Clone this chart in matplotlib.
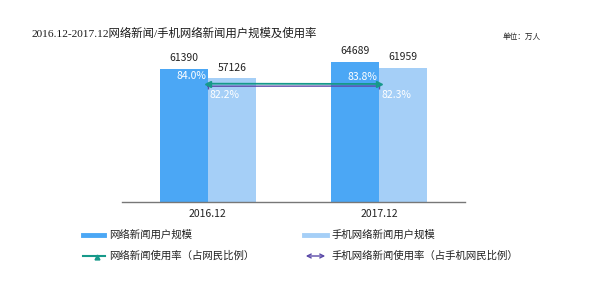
import matplotlib
matplotlib.use("Agg")
import matplotlib.pyplot as plt
from matplotlib.lines import Line2D
from matplotlib.patches import FancyArrowPatch

plt.rcParams['font.family'] = ['Noto Sans CJK SC', 'DejaVu Sans']

categories = ['2016.12', '2017.12']
news_users = [61390, 64689]
mobile_news_users = [57126, 61959]
news_rate = [84.0, 83.8]
mobile_news_rate = [82.2, 82.3]

c_dark = '#4ba7f5'
c_light = '#a5cff7'
c_green = '#16998a'
c_purple = '#5b4aa8'

fig = plt.figure(figsize=(6, 2.91), dpi=100)
ax = fig.add_axes([122/600, 89/291, 343/600, 162/291])
x = list(range(len(categories)))
w = 0.28
ax.bar([i - w/2 for i in x], news_users, width=w, color=c_dark)
ax.bar([i + w/2 for i in x], mobile_news_users, width=w, color=c_light)
ax.set_xlim(-0.5, 1.5)
ax.set_ylim(0, 74800)
for s in ['top', 'right', 'left']:
    ax.spines[s].set_visible(False)
ax.spines['bottom'].set_color('#777777')
ax.spines['bottom'].set_linewidth(1.0)
ax.set_yticks([])
ax.set_xticks(x)
ax.set_xticklabels(categories, fontsize=7.5, color='#222222')
ax.tick_params(axis='x', length=0, pad=5)

for i, v in enumerate(news_users):
    ax.text(i - w/2, v + 2600, str(v), ha='center', va='bottom', fontsize=7.5, color='#222222')
for i, v in enumerate(mobile_news_users):
    ax.text(i + w/2, v + 2600, str(v), ha='center', va='bottom', fontsize=7.5, color='#222222')

ax2 = ax.twinx()
ax2.set_ylim(0, 115)
ax2.set_axis_off()
ax2.plot(x, news_rate, color=c_green, lw=1.3, zorder=3)
ax2.plot(x[:1], news_rate[:1], marker='<', color=c_green, ms=4, zorder=4)
ax2.plot(x[-1:], news_rate[-1:], marker='>', color=c_green, ms=4, zorder=4)
ax2.plot(x, mobile_news_rate, color=c_purple, lw=1.0, zorder=2)
ax2.plot(x[:1], mobile_news_rate[:1], marker='|', color=c_purple, ms=4, zorder=2)
ax2.plot(x[-1:], mobile_news_rate[-1:], marker='|', color=c_purple, ms=4, zorder=2)

for i, v in enumerate(news_rate):
    ax2.text(i - 0.01, v + 5.2, f'{v:.1f}%', ha='right', va='center', fontsize=7.5, color='white', zorder=5)
for i, v in enumerate(mobile_news_rate):
    ax2.text(i + 0.012, v - 6.5, f'{v:.1f}%', ha='left', va='center', fontsize=7.5, color='white', zorder=5)

fig.text(32/600, 1 - 33/291, '2016.12-2017.12网络新闻/手机网络新闻用户规模及使用率',
         fontsize=8.2, color='#1a1a1a', va='center', ha='left',
         family=['Liberation Serif', 'Noto Sans CJK SC'])
fig.text(503/600, 1 - 37/291, '单位：万人', fontsize=5.5, color='#222222', va='center', ha='left')

# legend
def fx(px):
    return px / 600
def fy(py):
    return 1 - py / 291

fig.add_artist(Line2D([fx(83), fx(104)], [fy(235), fy(235)], color=c_dark, lw=3.5))
fig.text(fx(109), fy(235), '网络新闻用户规模', fontsize=7.5, va='center', color='#222222')
fig.add_artist(Line2D([fx(304), fx(327)], [fy(235), fy(235)], color=c_light, lw=3.5))
fig.text(fx(331), fy(235), '手机网络新闻用户规模', fontsize=7.5, va='center', color='#222222')

fig.add_artist(Line2D([fx(83), fx(105)], [fy(256), fy(256)], color=c_green, lw=1.5))
fig.add_artist(Line2D([fx(97)], [fy(256.5)], color=c_green, marker='^', ms=3.5, lw=0))
fig.text(fx(109), fy(256), '网络新闻使用率（占网民比例）', fontsize=7.5, va='center', color='#222222')
fig.add_artist(FancyArrowPatch((fx(303), fy(256)), (fx(328), fy(256)),
               transform=fig.transFigure, arrowstyle='<->', mutation_scale=7,
               color=c_purple, lw=1.0))
fig.text(fx(331), fy(256), '手机网络新闻使用率（占手机网民比例）', fontsize=7.5, va='center', color='#222222')

fig.savefig('out.png', dpi=100, facecolor='white')
